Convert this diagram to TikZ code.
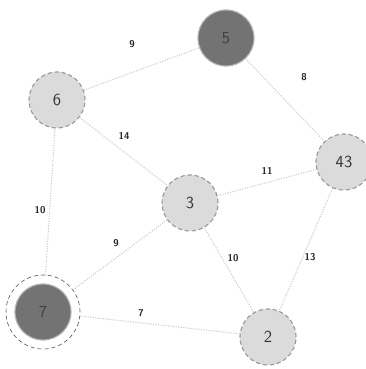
\documentclass[tikz,border=0pt]{standalone}
\usepackage{tikz}
\usetikzlibrary{positioning,arrows.meta,calc}

\begin{document}
\begin{tikzpicture}[x=0.025cm, y=-0.025cm,
    vertLight/.style={circle, minimum size=1.4cm, inner sep=0pt, fill=gray!28, draw=gray!80, densely dashed, thick, font=\sffamily\large, text=black!80},
    vertDark/.style={circle, minimum size=1.4cm, inner sep=0pt, fill=black!55, draw=gray!60, thick, font=\sffamily\large, text=black!75},
    ring/.style={circle, minimum size=1.85cm, inner sep=0pt, draw=black!70, densely dashed},
    link/.style={draw=gray!40, densely dotted, thick},
    weight/.style={font=\sffamily\scriptsize\bfseries, text=black!85, inner sep=1pt}
]

    % Frame
    \useasboundingbox (0,0) rectangle (366,369);

    % Vertices
    \node[vertDark]  (n5)  at (226, 38)  {5};
    \node[vertLight] (n6)  at (57, 100)  {6};
    \node[vertLight] (n43) at (344, 162) {43};
    \node[vertLight] (n3)  at (190, 203) {3};
    \node[vertDark]  (n7)  at (43, 312)  {7};
    \node[ring]      (r7)  at (n7) {};
    \node[vertLight] (n2)  at (268, 337) {2};

    % Edges
    \draw[link] (n6) -- (n5);
    \draw[link] (n5) -- (n43);
    \draw[link] (n6) -- (n3);
    \draw[link] (r7) -- (n6);
    \draw[link] (n3) -- (n43);
    \draw[link] (n3) -- (r7);
    \draw[link] (n3) -- (n2);
    \draw[link] (n43) -- (n2);
    \draw[link] (r7) -- (n2);

    % Weights
    \node[weight] (w65)  at (132, 44)  {9};
    \node[weight] (w543) at (304, 77)  {8};
    \node[weight] (w63)  at (124, 136) {14};
    \node[weight] (w343) at (267, 171) {11};
    \node[weight] (w67)  at (40, 210)  {10};
    \node[weight] (w37)  at (116, 243) {9};
    \node[weight] (w32)  at (233, 258) {10};
    \node[weight] (w432) at (310, 257) {13};
    \node[weight] (w72)  at (141, 313) {7};

\end{tikzpicture}
\end{document}
